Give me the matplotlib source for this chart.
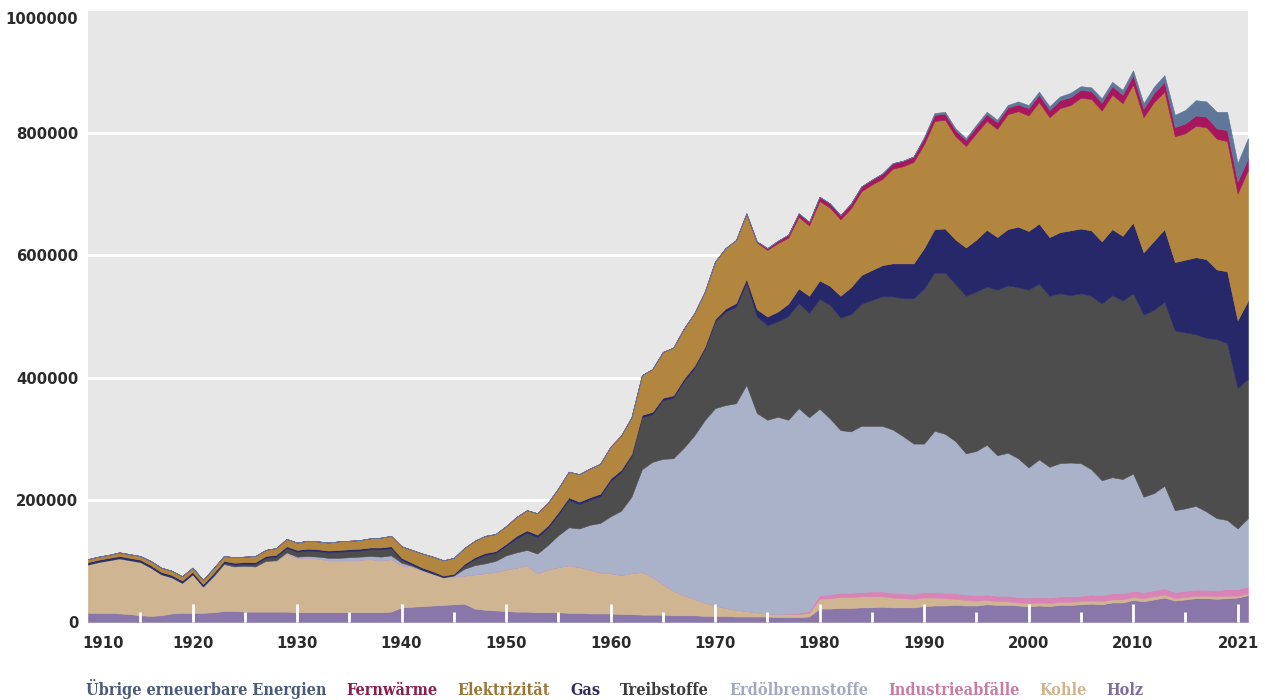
import numpy as np
import matplotlib
matplotlib.use("Agg")
import matplotlib.pyplot as plt
from matplotlib.ticker import FuncFormatter
from matplotlib.transforms import ScaledTranslation

# Endenergieverbrauch nach Energieträger, in 1000 TJ
years = np.arange(1910, 2022)

holz = [15, 15, 15, 14, 13, 11, 10, 11, 14, 15,
        15, 15, 16, 18, 18, 17, 17, 17, 17, 17,
        16, 16, 16, 16, 16, 16, 16, 16, 16, 17,
        24, 25, 26, 27, 28, 29, 30, 22, 20, 19,
        18, 17, 17, 16, 16, 16, 15, 15, 14, 14,
        14, 13, 13, 12, 12, 12, 11, 11, 11, 10,
        10, 10, 9, 9, 9, 9, 8, 8, 8, 9,
        22, 22, 23, 23, 24, 24, 25, 24, 24, 24,
        26, 27, 27, 28, 27, 27, 29, 28, 28, 27,
        26, 27, 26, 28, 28, 29, 30, 29, 32, 32,
        36, 34, 37, 40, 35, 37, 39, 39, 38, 39,
        40, 44]
kohle = [79, 83, 86, 90, 88, 87, 79, 67, 59, 49,
         63, 43, 59, 77, 73, 75, 74, 83, 83, 95,
         89, 89, 88, 85, 85, 85, 86, 87, 85, 86,
         69, 66, 58, 52, 45, 46, 46, 56, 60, 63,
         68, 72, 76, 64, 70, 74, 78, 75, 72, 67,
         66, 64, 67, 70, 62, 50, 40, 33, 27, 22,
         17, 13, 11, 9, 7, 5, 5, 5, 5, 6,
         16, 17, 18, 18, 18, 18, 17, 16, 15, 14,
         14, 13, 12, 10, 9, 8, 7, 6, 6, 5,
         5, 5, 5, 5, 5, 5, 5, 5, 5, 5,
         5, 5, 5, 5, 4, 4, 4, 4, 4, 4,
         3, 3]
industrie = [0] * 67 + [1, 2, 3, 6, 6, 7, 7, 7, 8, 8, 8, 8, 8] + [9] * 16 + [10] * 13 + [11] * 3
erdoel = [0] * 18 + [1, 2,
          2, 3, 3, 4, 4, 5, 5, 5, 6, 6,
          4, 1, 1, 0, 0, 1, 11, 15, 16, 18,
          23, 25, 25, 32, 40, 52, 62, 63, 73, 81,
          93, 105, 125, 168, 188, 205, 217, 241, 267, 298,
          323, 332, 338, 370, 326, 317, 323, 317, 335, 317,
          305, 288, 266, 264, 272, 271, 271, 267, 257, 246,
          243, 264, 260, 249, 231, 236, 245, 230, 234, 227,
          213, 225, 214, 218, 219, 217, 205, 188, 190, 187,
          192, 156, 159, 168, 134, 135, 137, 128, 118, 113,
          99, 112]
treib = [1, 1, 1, 1, 1, 1, 1, 1, 1, 1,
         1, 1, 2, 2, 3, 3, 4, 5, 6, 7,
         8, 9, 9, 9, 10, 10, 10, 11, 12, 12,
         5, 2, 1, 1, 1, 1, 5, 10, 14, 13,
         16, 23, 28, 27, 28, 34, 45, 40, 41, 44,
         58, 63, 66, 85, 78, 96, 99, 109, 110, 116,
         142, 153, 158, 167, 158, 155, 156, 170, 172, 171,
         180, 186, 184, 192, 200, 206, 212, 218, 226, 238,
         254, 259, 264, 257, 258, 261, 259, 271, 274, 280,
         291, 288, 280, 278, 274, 278, 284, 289, 298, 292,
         295, 298, 300, 301, 294, 288, 281, 284, 293, 289,
         230, 228]
gas = [3] * 34 + [2, 2] + [3] * 5 + [4] * 20 + [5, 6, 7, 12, 14, 16, 20, 24, 28,
       30, 31, 36, 44, 47, 49, 51, 54, 57, 57,
       66, 71, 72, 73, 79, 85, 93, 86, 92, 99,
       96, 98, 96, 100, 106, 106, 107, 102, 108, 106,
       116, 102, 113, 119, 112, 119, 126, 129, 114, 118,
       111, 128]
elektro = [5, 5, 5, 6, 6, 6, 7, 7, 7, 7,
           7, 7, 8, 8, 9, 9, 10, 10, 11, 12,
           12, 13, 13, 13, 14, 14, 14, 15, 16, 17,
           19, 21, 23, 24, 25, 26, 26, 27, 28, 28,
           29, 31, 33, 35, 37, 39, 42, 45, 47, 49,
           52, 56, 60, 65, 70, 75, 78, 82, 86, 90,
           94, 99, 103, 106, 109, 109, 112, 108, 117, 115,
           130, 128, 125, 129, 137, 140, 141, 155, 159, 166,
           170, 177, 178, 169, 166, 174, 178, 177, 188, 189,
           189, 199, 196, 203, 205, 214, 215, 214, 220, 217,
           226, 221, 227, 225, 206, 207, 215, 216, 214, 213,
           207, 214]
fernwaerme = [0] * 63 + [1, 2, 3, 4, 5, 6, 6,
              7, 7, 7, 8, 8, 8, 9, 9, 9, 9,
              10, 10, 10, 10, 10, 11, 11, 11, 11, 11,
              12, 12, 12, 13, 13, 13, 13, 13, 14, 14,
              15, 14, 15, 16, 15, 16, 17, 17, 17, 18,
              20, 19]
uebrige = [0] * 80 + [2, 3, 3, 3, 3, 3, 4, 4, 4, 5,
           5, 5, 6, 6, 7, 6, 6, 7, 7, 8,
           8, 9, 10, 11, 20, 22, 25, 25, 27, 30,
           30, 33]

labels = ["Holz", "Kohle", "Industrieabfälle", "Erdölbrennstoffe", "Treibstoffe",
          "Gas", "Elektrizität", "Fernwärme", "Übrige erneuerbare Energien"]
series = [holz, kohle, industrie, erdoel, treib, gas, elektro, fernwaerme, uebrige]
fill_colors = ["#8a77aa", "#d0b593", "#d884b6", "#a9b2c9", "#4d4d4d",
               "#27286a", "#b38640", "#a8175e", "#5f7799"]
text_colors = ["#7d6e9e", "#d2b48e", "#c77ca3", "#a3aac0", "#3c3c3c",
               "#2f2d5c", "#9c7637", "#8b1e4e", "#4a5a7a"]

for s in series:
    assert len(s) == len(years), len(s)

W, H = 1265, 700
fig = plt.figure(figsize=(W / 100, H / 100), dpi=100, facecolor="white")
ax = fig.add_axes([88 / W, 1 - 622 / H, (1248 - 88) / W, (622 - 11) / H])
ax.set_facecolor("#e7e7e7")
for sp in ax.spines.values():
    sp.set_visible(False)

for g in [200000, 400000, 600000, 800000]:
    ax.axhline(g, color="white", lw=2.2, zorder=0.5)

ax.stackplot(years, *[np.array(s) * 1000 for s in series], colors=fill_colors,
             edgecolor="face", linewidth=0.4, zorder=1)

ax.set_xlim(1910, 2021)
ax.set_ylim(0, 1000000)

# white in-plot tick marks
ax.set_xticks(range(1920, 2021, 10))
ax.set_xticks(range(1915, 2021, 10), minor=True)
ax.tick_params(axis="x", which="major", direction="in", length=13, width=2,
               color="white", labelbottom=False)
ax.tick_params(axis="x", which="minor", direction="in", length=7, width=2,
               color="white", labelbottom=False)

tick_font = dict(family="DejaVu Sans", weight="bold")
ax.set_yticks(range(0, 1000001, 200000))
ax.yaxis.set_major_formatter(FuncFormatter(lambda v, p: f"{int(v)}"))
ax.tick_params(axis="y", length=0, pad=7, labelsize=10.7, labelcolor="#2b2b2b")
for t in ax.get_yticklabels():
    t.set_fontfamily(tick_font["family"])
    t.set_fontweight(tick_font["weight"])
ylabs = ax.get_yticklabels()
ylabs[-1].set_transform(ylabs[-1].get_transform() + ScaledTranslation(0, -7 / 100, fig.dpi_scale_trans))

label_years = list(range(1910, 2011, 10)) + [2021]
sec = ax.secondary_xaxis("bottom")
sec.set_xticks(label_years, labels=[str(y) for y in label_years])
sec.tick_params(length=0, pad=10, labelsize=10.7, labelcolor="#2b2b2b")
for sp in sec.spines.values():
    sp.set_visible(False)
xlabs = sec.get_xticklabels()
for t in xlabs:
    t.set_fontfamily(tick_font["family"])
    t.set_fontweight(tick_font["weight"])
xlabs[0].set_transform(xlabs[0].get_transform() + ScaledTranslation(15 / 100, 0, fig.dpi_scale_trans))
xlabs[-1].set_transform(xlabs[-1].get_transform() + ScaledTranslation(-9 / 100, 0, fig.dpi_scale_trans))

# coloured text legend, top layer first
renderer = fig.canvas.get_renderer()
order = list(range(len(labels)))[::-1]
gap = 20
legend_font = dict(family="DejaVu Serif", weight="bold", stretch="condensed")
target = 1140 - 86 - gap * (len(order) - 1)
probe = [fig.text(0, 0, labels[i], fontsize=10, **legend_font) for i in order]
total = sum(t.get_window_extent(renderer).width for t in probe)
for t in probe:
    t.remove()
size = 10 * target / total

x_px = 86
for i in order:
    t = fig.text(x_px / W, 5 / H, labels[i], fontsize=size, color=text_colors[i],
                 ha="left", va="baseline", **legend_font)
    x_px = t.get_window_extent(renderer).x1 + gap

fig.savefig("out.png", dpi=100, facecolor="white")
